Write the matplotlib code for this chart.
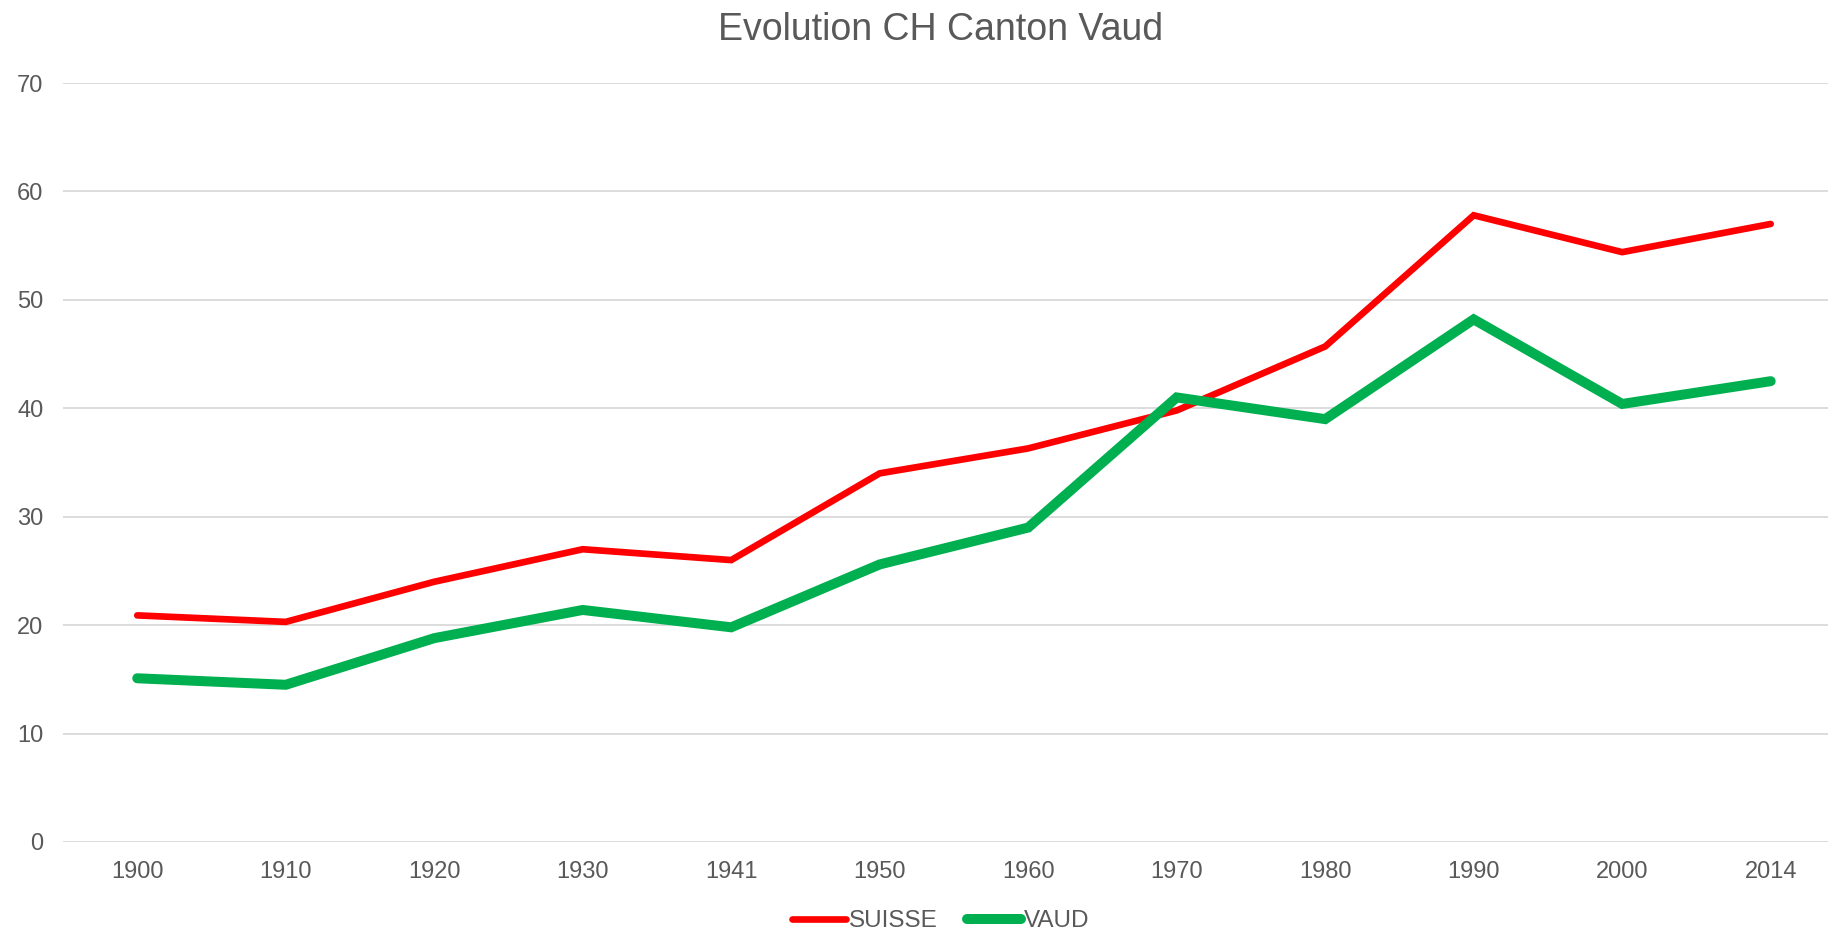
import matplotlib
matplotlib.use('Agg')
import matplotlib.pyplot as plt
import numpy as np

years  = ['1900', '1910', '1920', '1930', '1941', '1950',
          '1960', '1970', '1980', '1990', '2000', '2014']
suisse = [20.9, 20.3, 24.0, 27.0, 26.0, 34.0, 36.3, 39.8, 45.7, 57.8, 54.4, 57.0]
vaud   = [15.1, 14.5, 18.8, 21.4, 19.8, 25.6, 29.0, 41.0, 39.0, 48.2, 40.4, 42.5]

txt_col  = '#595959'
grid_col = '#d9d9d9'

plt.rcParams['font.family'] = ['Liberation Sans', 'DejaVu Sans']

fig = plt.figure(figsize=(18.28, 9.32), dpi=100)
ax  = fig.add_axes([63 / 1828, 1 - 842 / 932, 1 - 63 / 1828, (842 - 83) / 932])

x = np.arange(len(years))
ax.plot(x, suisse, color='#ff0000', linewidth=4.8, solid_capstyle='round',
        solid_joinstyle='miter', label='SUISSE', zorder=3)
ax.plot(x, vaud, color='#00b050', linewidth=7.2, solid_capstyle='round',
        solid_joinstyle='miter', label='VAUD', zorder=3)

ax.set_xlim(-0.5, 11.386)
ax.set_ylim(0, 70)
ax.set_yticks(range(0, 71, 10))
ax.set_xticks(x)
ax.set_xticklabels(years)
ax.yaxis.grid(True, color=grid_col, linewidth=1.3)
ax.set_axisbelow(True)
for s in ax.spines.values():
    s.set_visible(False)
ax.tick_params(length=0, labelsize=17, colors=txt_col)
ax.tick_params(axis='y', pad=14)
ax.tick_params(axis='x', pad=14)

fig.text(941 / 1828, 1 - 30 / 932, 'Evolution CH Canton Vaud', ha='center',
         va='center', fontsize=27, color=txt_col)

fig.legend(loc='center', bbox_to_anchor=(941 / 1828, 1 - 921 / 932), ncol=2,
           frameon=False, fontsize=17.5, handlelength=2.2, handletextpad=0.15,
           columnspacing=1.2, labelcolor=txt_col)

fig.savefig('out.png', dpi=100)
plt.close()
